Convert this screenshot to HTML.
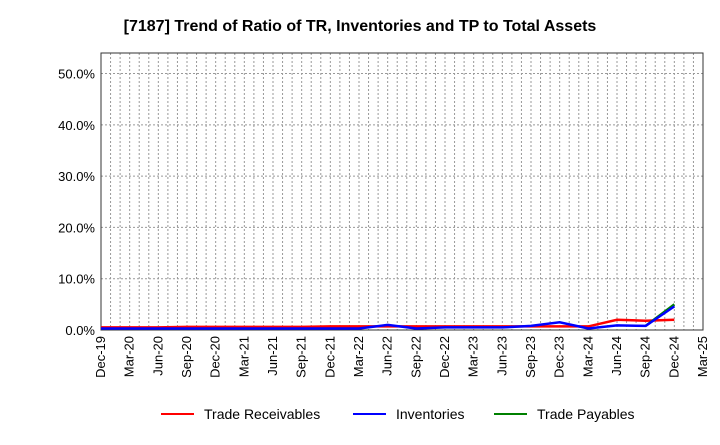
<!DOCTYPE html>
<html><head><meta charset="utf-8"><style>
body{margin:0;background:#fff;font-family:"Liberation Sans",sans-serif;}
svg text{font-family:"Liberation Sans",sans-serif;}
</style></head><body>
<svg width="720" height="440" id="c">
<text x="360" y="31" text-anchor="middle" font-size="16" font-weight="bold" fill="#000">[7187]  Trend of Ratio of TR, Inventories and TP to Total Assets</text>
<g id="grid"></g><g id="axes"></g><g id="series"></g>
<g>
<line x1="161" y1="414" x2="194" y2="414" stroke="#f00" stroke-width="2"/>
<text x="204" y="419" font-size="14">Trade Receivables</text>
<line x1="353" y1="414" x2="386" y2="414" stroke="#00f" stroke-width="2"/>
<text x="396" y="419" font-size="14">Inventories</text>
<line x1="494" y1="414" x2="527" y2="414" stroke="#008000" stroke-width="2"/>
<text x="537" y="419" font-size="14">Trade Payables</text>
</g>
</svg>
<script>
const categories=["Dec-19","Mar-20","Jun-20","Sep-20","Dec-20","Mar-21","Jun-21","Sep-21","Dec-21","Mar-22","Jun-22","Sep-22","Dec-22","Mar-23","Jun-23","Sep-23","Dec-23","Mar-24","Jun-24","Sep-24","Dec-24","Mar-25"];
const yTicks=[0,10,20,30,40,50];
const receivables=[0.5,0.5,0.5,0.6,0.6,0.6,0.6,0.6,0.7,0.7,0.7,0.7,0.7,0.7,0.7,0.7,0.7,0.7,2.0,1.8,2.0];
const inventories=[0.3,0.3,0.3,0.3,0.3,0.3,0.3,0.3,0.3,0.3,1.0,0.3,0.5,0.5,0.5,0.8,1.5,0.3,0.9,0.8,4.6];
const payables=[null,null,null,null,null,null,null,null,null,null,null,null,null,null,null,null,null,null,null,0.8,5.0];
const X0=101,X1=703,Y0=330,Y1=53,YMAX=54;
const ns="http://www.w3.org/2000/svg";
const xq=i=>X0+(X1-X0)*i/(categories.length-1);
const y=v=>Y0-(Y0-Y1)*v/YMAX;
function mk(t,a,p){const e=document.createElementNS(ns,t);for(const k in a)e.setAttribute(k,a[k]);p.appendChild(e);return e;}
const g=document.getElementById('grid'),ax=document.getElementById('axes'),s=document.getElementById('series');
const nm=(categories.length-1)*3;
for(let m=1;m<nm;m++){const x=X0+(X1-X0)*m/nm;const l=mk('line',{x1:x,x2:x,y1:Y1,y2:Y0,stroke:'#999','stroke-dasharray':'2,2','stroke-width':1},g);

}
yTicks.forEach(v=>{if(v>0){const l=mk('line',{x1:X0,x2:X1,y1:y(v),y2:y(v),stroke:'#999','stroke-dasharray':'2,2'},g);

}
const t=mk('text',{x:X0-6,y:y(v)+5,'text-anchor':'end','font-size':13},ax);t.textContent=v.toFixed(1)+'%';

});
mk('rect',{x:X0,y:Y1,width:X1-X0,height:Y0-Y1,fill:'none',stroke:'#333'},ax);
categories.forEach((c,i)=>{const x=xq(i);const t=mk('text',{x:x+4,y:Y0+6,'text-anchor':'end','font-size':13,transform:`rotate(-90 ${x+4} ${Y0+6})`},ax);t.textContent=c;

});
function line(d,col,name){let p='';d.forEach((v,i)=>{if(v==null)return;p+=(p?'L':'M')+xq(i)+','+y(v);});
const e=mk('path',{d:p,fill:'none',stroke:col,'stroke-width':2.5},s);

}
line(receivables,'#f00','trade-receivables-line');
line(payables,'#008000','trade-payables-line');
line(inventories,'#00f','inventories-line');
</script>
</body></html>
